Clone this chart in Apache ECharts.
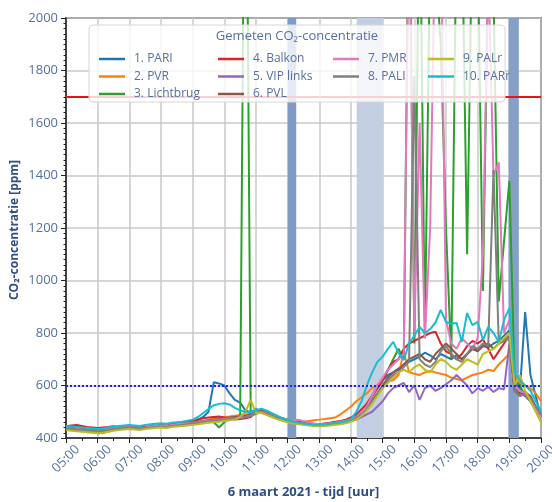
<!DOCTYPE html>
<html>
<head>
<meta charset="utf-8">
<script src="https://cdn.jsdelivr.net/npm/echarts@6/dist/echarts.min.js"></script>
<style>
  html, body { margin: 0; padding: 0; background: #fff; }
  #chart { width: 552px; height: 502px; }
</style>
</head>
<body>
<div id="chart"></div>
<script>
// tijdstappen van 10 minuten, 05:00 - 20:00 (in uren)
const times = [];
for (let i = 0; i <= 90; i++) times.push(5 + i / 6);

const hourTicks = ['05:00', '06:00', '07:00', '08:00', '09:00', '10:00', '11:00', '12:00',
  '13:00', '14:00', '15:00', '16:00', '17:00', '18:00', '19:00', '20:00'];

const names = ['1. PARI', '2. PVR', '3. Lichtbrug', '4. Balkon', '5. VIP links',
  '6. PVL', '7. PMR', '8. PALI', '9. PALr', '10. PARr'];
const colors = ['#1f77b4', '#ff7f0e', '#2ca02c', '#d62728', '#9467bd',
  '#8c564b', '#e377c2', '#7f7f7f', '#bcbd22', '#17becf'];

// CO2 [ppm], elke 10 min
const pari = [
  445,440,442,438,436,434,430,432,435,438,440,442,445,440,438,442,445,448,446,444,450,452,455,458,460,
  470,480,500,612,608,600,570,545,535,505,498,510,
  505,495,490,480,470,465,462,458,455,452,450,450,452,455,455,458,462,470,
  480,500,530,560,600,620,640,650,665,680,690,700,710,725,715,700,720,710,700,715,700,720,740,735,750,745,760,770,790,810,620,580,880,640,560,480];
const pvr = [
  440,438,435,432,430,428,425,428,432,436,438,440,442,440,436,440,444,446,448,446,450,452,455,458,460,
  462,465,470,475,478,480,482,485,488,490,492,500,
  498,490,482,475,470,468,465,462,462,465,468,470,472,475,478,490,505,520,
  540,555,570,590,600,605,615,620,640,730,650,645,640,650,655,650,645,640,630,625,620,630,640,645,650,660,655,680,700,720,630,610,600,590,570,540];
const lichtbrug = [
  435,432,430,428,426,422,418,420,425,430,432,435,438,436,434,438,440,442,444,440,445,448,450,452,455,
  458,462,465,460,440,460,475,478,480,3200,490,505,
  500,490,482,475,468,462,458,455,452,450,448,448,450,452,455,458,462,470,
  480,500,530,560,590,620,660,700,740,700,2600,760,2600,780,2300,2200,1900,1200,700,2400,2400,1100,2400,2300,960,2200,2100,920,1150,1380,620,600,560,540,510,480];
const balkon = [
  445,448,450,446,442,440,438,440,442,445,440,436,438,442,446,444,442,446,450,448,452,455,458,462,465,
  470,475,478,480,482,478,475,470,472,475,480,500,
  505,498,490,482,475,470,465,462,458,455,452,452,455,458,462,465,470,478,
  490,510,530,560,590,620,660,690,700,740,760,770,780,790,800,805,760,730,720,700,720,750,770,760,775,740,700,730,760,790,580,560,570,550,520,490];
const vipLinks = [
  432,430,428,430,432,434,430,428,430,434,436,438,440,438,436,438,440,442,444,442,446,448,450,452,455,
  458,460,462,465,468,470,472,474,476,480,485,495,
  500,495,488,480,474,468,462,458,455,452,450,448,448,450,452,455,458,465,
  470,480,490,500,520,540,570,590,600,610,575,600,545,590,600,580,590,605,620,640,620,600,570,590,580,595,575,590,585,760,590,570,560,540,510,490];
const pvl = [
  440,442,440,438,436,432,430,432,434,436,438,440,442,440,438,440,442,444,446,444,448,450,452,455,458,
  462,465,468,470,472,475,478,480,482,485,490,498,
  502,495,488,480,474,468,464,460,456,454,452,450,452,454,456,460,465,472,
  485,500,520,545,570,600,630,650,660,680,700,710,720,700,690,720,740,760,740,720,700,720,740,730,750,760,740,760,770,790,580,570,575,560,520,490];
const pmr = [
  438,436,434,432,430,428,426,428,432,436,438,440,442,440,438,440,443,446,448,446,450,452,454,456,458,
  460,463,466,468,470,472,474,476,478,480,485,495,
  500,494,486,478,472,468,468,470,465,460,455,452,452,455,458,462,466,472,
  480,500,520,560,600,630,660,680,700,720,2500,800,1600,780,1200,2400,2400,850,760,740,780,760,740,780,1100,2200,1400,1450,800,850,600,580,570,550,510,480];
const pali = [
  436,434,432,430,430,428,426,428,430,434,436,438,440,438,436,438,440,442,444,442,446,448,450,452,455,
  458,460,463,466,468,470,472,475,478,480,484,492,
  498,492,485,478,472,466,462,458,455,452,450,448,448,450,452,455,458,465,
  475,490,510,540,570,590,620,640,650,670,690,1780,700,680,670,690,730,750,720,700,690,720,750,740,760,750,1420,760,770,780,580,560,570,550,520,490];
const palr = [
  430,428,426,424,422,420,418,420,424,428,430,432,434,432,430,434,436,438,440,438,442,444,446,448,450,
  452,455,458,460,462,465,468,470,480,500,545,495,
  495,488,480,472,466,460,455,452,450,448,446,445,446,448,450,452,456,462,
  470,485,505,530,560,590,610,630,650,660,650,670,680,660,650,680,700,690,670,660,680,700,690,680,720,730,740,760,780,800,600,640,580,540,500,460];
const parr = [
  446,444,442,440,438,436,434,436,440,444,446,448,450,448,446,450,452,454,456,454,458,460,462,466,470,
  480,495,510,525,530,532,528,515,505,500,498,505,
  512,505,495,485,475,468,462,458,455,452,450,450,452,455,458,460,465,472,
  500,540,600,650,690,710,740,766,724,697,760,790,823,800,815,840,888,842,835,838,766,876,830,842,773,823,800,766,850,895,648,620,600,580,540,500];

const seriesValues = [pari, pvr, lichtbrug, balkon, vipLinks, pvl, pmr, pali, palr, parr];

// gemarkeerde perioden (uren)
const bands = [[12.0, 12.27, '#7f9bc5'], [14.18, 15.0, '#c2cee2'], [18.97, 19.3, '#859fc6']];
const limitHigh = 1700;
const limitLow = 600;

const chart = echarts.init(document.getElementById('chart'));

const series = seriesValues.map((vals, k) => ({
  name: names[k],
  type: 'line',
  data: vals.map((v, i) => [times[i], v]),
  showSymbol: false,
  lineStyle: { width: 2, color: colors[k] },
  itemStyle: { color: colors[k] }
}));

// achtergrond: banden en grenslijnen
series.unshift({
  name: 'achtergrond',
  type: 'line',
  data: [[5, -100]],
  showSymbol: false,
  lineStyle: { opacity: 0 },
  z: 1,
  silent: true,
  markArea: {
    silent: true,
    data: bands.map(b => [{ xAxis: b[0], itemStyle: { color: b[2] } }, { xAxis: b[1] }])
  },
  markLine: {
    silent: true,
    symbol: 'none',
    label: { show: false },
    data: [
      { yAxis: limitHigh, lineStyle: { color: '#e8141c', width: 2, type: 'solid' } },
      { yAxis: limitLow, lineStyle: { color: '#2222ee', width: 2, type: 'dotted' } }
    ]
  }
});

const labelColor = '#54709f';
const legendCols = [[0, 1, 2], [3, 4, 5], [6, 7], [8, 9]];
const legendLeft = [94, 213, 328, 423];

// legenda op een eigen laag boven de lijnen
const legends = legendCols.map((col, c) => ({
  orient: 'vertical',
  left: legendLeft[c],
  top: 47,
  zlevel: 1,
  z: 4,
  data: col.map(k => names[k]),
  icon: 'rect',
  itemWidth: 26,
  itemHeight: 2.5,
  itemGap: 3.5,
  selectedMode: false,
  textStyle: { color: labelColor, fontSize: 12, lineHeight: 14, padding: [0, 0, 0, 4], fontFamily: 'Open Sans' }
}));

chart.setOption({
  animation: false,
  textStyle: { fontFamily: 'Open Sans' },
  grid: {
    left: 66, right: 11, top: 18, bottom: 64, outerBoundsMode: 'none',
    show: true, borderColor: '#222', borderWidth: 1.5
  },
  legend: legends,
  graphic: [
    {
      type: 'rect', zlevel: 1, z: 0,
      shape: { x: 89, y: 25, width: 416, height: 77, r: 4 },
      style: { fill: 'rgba(255,255,255,0.8)', stroke: '#d6d6d6', lineWidth: 1 }
    },
    {
      type: 'text', zlevel: 1, z: 6, x: 297, y: 36,
      style: { text: 'Gemeten CO₂-concentratie', fill: labelColor, fontSize: 13, fontFamily: 'Open Sans',
        align: 'center', verticalAlign: 'middle' }
    },
    {
      type: 'text', x: 15, y: 230, rotation: Math.PI / 2,
      style: { text: 'CO₂-concentratie [ppm]', fill: '#2d4f86', fontSize: 12, fontWeight: 'bold',
        fontFamily: 'Open Sans', align: 'center', verticalAlign: 'middle' }
    }
  ],
  xAxis: {
    type: 'value',
    min: 5, max: 20, interval: 1,
    name: '6 maart 2021 - tijd [uur]',
    nameLocation: 'middle',
    nameGap: 48,
    nameTextStyle: { color: '#2d4f86', fontSize: 13, fontWeight: 'bold' },
    axisLine: { lineStyle: { color: '#222', width: 1.5 } },
    axisTick: { length: 5, lineStyle: { color: '#222' } },
    minorTick: { show: true, splitNumber: 2, length: 3, lineStyle: { color: '#222' } },
    axisLabel: {
      color: labelColor, fontSize: 13, rotate: 45, margin: 21,
      align: 'center', verticalAlign: 'middle',
      formatter: v => hourTicks[Math.round(v) - 5]
    },
    splitLine: { show: true, lineStyle: { color: '#c8c8c8', width: 1.5 } }
  },
  yAxis: {
    type: 'value',
    min: 400, max: 2000, interval: 200,
    axisLine: { show: true, lineStyle: { color: '#222', width: 1.5 } },
    axisTick: { show: true, length: 5, lineStyle: { color: '#222' } },
    minorTick: { show: true, splitNumber: 10, length: 2.5, lineStyle: { color: '#222' } },
    axisLabel: { color: labelColor, fontSize: 13, margin: 8, formatter: v => String(v) },
    splitLine: { show: true, lineStyle: { color: '#c8c8c8', width: 1.5 } }
  },
  series: series
});
</script>
</body>
</html>
